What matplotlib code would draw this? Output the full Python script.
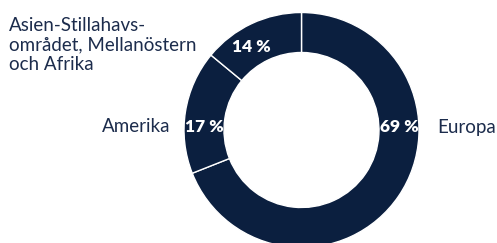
import matplotlib
matplotlib.use("Agg")
import matplotlib.pyplot as plt

categories = ["Europa", "Amerika", "Asien-Stillahavs-\nområdet, Mellanöstern\noch Afrika"]
shares = [69, 17, 14]
pct_labels = ["69 %", "17 %", "14 %"]

navy = "#0b1f3f"
text_col = "#1c2c4c"
W, H = 497, 243
fig = plt.figure(figsize=(W / 100, H / 100), dpi=100)
ax = fig.add_axes([0, 0, 1, 1])
cx, cy = 301.5, H - 130
R = 117.5
ax.pie(shares, center=(cx, cy), radius=R, startangle=90, counterclock=False,
       colors=[navy] * 3,
       wedgeprops=dict(width=40, edgecolor="white", linewidth=1.0))
ax.set_xlim(0, W)
ax.set_ylim(0, H)
ax.set_aspect("equal")
ax.axis("off")

font = "Lato"
fs = 13.5
ax.text(437, H - 127, categories[0], ha="left", va="center", fontsize=fs,
        color=text_col, family=font)
ax.text(170, H - 127, categories[1], ha="right", va="center", fontsize=fs,
        color=text_col, family=font)
ax.text(9, H - 45, categories[2], ha="left", va="center", fontsize=fs,
        color=text_col, family=font, linespacing=1.17)

pct_pos = [(399.5, H - 127), (204, H - 127), (251, H - 47)]
for (x, y), lab in zip(pct_pos, pct_labels):
    ax.text(x, y, lab, ha="center", va="center", fontsize=12.5, color="white",
            fontweight="heavy", family=font)

fig.savefig("out.png", dpi=100)
